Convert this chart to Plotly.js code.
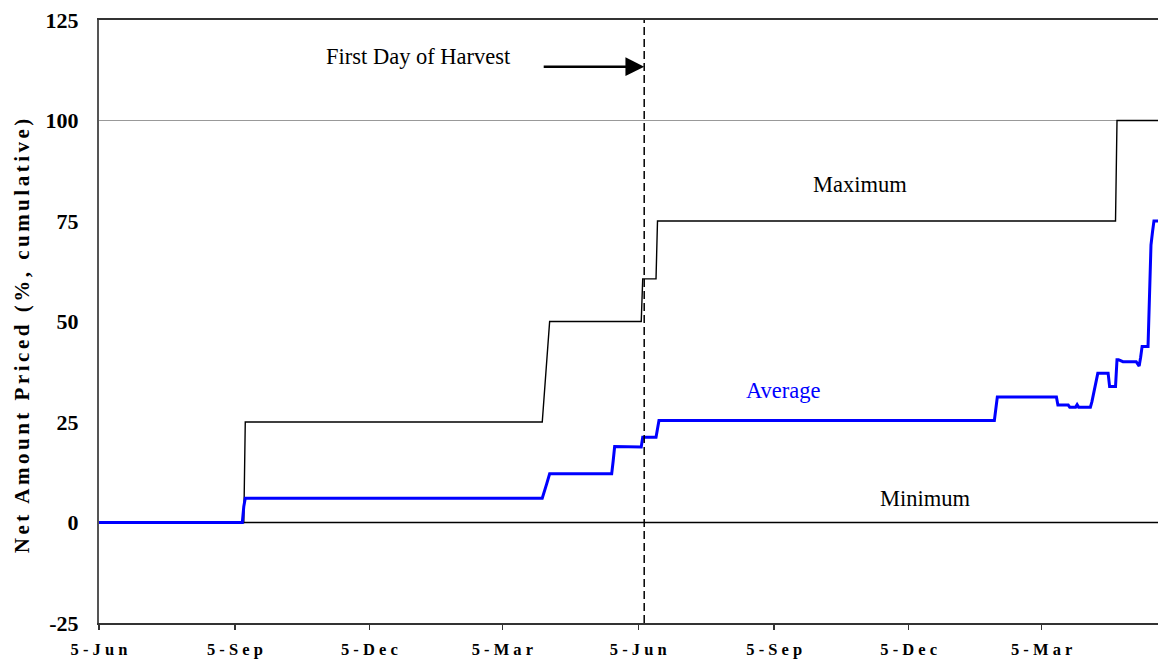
<!DOCTYPE html>
<html>
<head>
<meta charset="utf-8">
<script src="https://cdn.plot.ly/plotly-3.0.1.min.js"></script>
<style>
  html, body { margin: 0; padding: 0; background: #fff; }
  #chart { width: 1158px; height: 660px; }
  .annotation[data-index="5"] text { letter-spacing: 3.5px; }
</style>
</head>
<body>
<div id="chart"></div>
<script>
// ---- Data ----
const maxDates = ["2001-06-05","2001-09-11","2001-09-12","2002-04-01","2002-04-06","2002-06-07","2002-06-08","2002-06-17","2002-06-18","2003-04-24","2003-04-25","2003-05-22 18:00"];
const maxValues = [0,0,25,25,50,50,60.6,60.6,75,75,100,100];

const minDates = ["2001-06-05","2003-05-22 18:00"];
const minValues = [0,0];

const avgDates = ["2001-06-05","2001-09-10","2001-09-11","2001-09-12","2002-04-01","2002-04-03","2002-04-04","2002-04-06",
  "2002-05-18","2002-05-19","2002-05-20","2002-06-07","2002-06-08","2002-06-17","2002-06-18","2002-06-19",
  "2003-02-01","2003-02-02","2003-02-03","2003-03-15","2003-03-16","2003-03-23","2003-03-24","2003-03-28","2003-03-29","2003-03-30",
  "2003-04-07","2003-04-08","2003-04-09","2003-04-10","2003-04-11","2003-04-12","2003-04-19","2003-04-20","2003-04-24","2003-04-25",
  "2003-04-26","2003-04-29","2003-05-08","2003-05-10","2003-05-11","2003-05-12","2003-05-16","2003-05-17","2003-05-18","2003-05-19",
  "2003-05-20","2003-05-22 18:00"];
const avgValues = [0,0,4.0,6.05,6.05,8.8,9.6,12.1,
  12.1,15.3,18.9,18.8,21.2,21.2,23.7,25.4,
  25.4,28.7,31.2,31.2,29.2,29.2,28.7,28.7,29.3,28.7,
  28.7,30.0,31.6,33.7,35.3,37.1,37.1,33.8,33.8,40.5,
  40.5,40.0,40.0,38.9,41.1,43.8,43.8,60.2,69.0,72.2,
  75.0,75.0];

const harvestDate = "2002-06-09";
const xTickVals = ["2001-06-05","2001-09-05","2001-12-05","2002-03-05","2002-06-05","2002-09-05","2002-12-05","2003-03-05"];
const xTickText = ["5 - J u n","5 - S e p","5 - D e c","5 - M a r","5 - J u n","5 - S e p","5 - D e c","5 - M a r"];
const yTickVals = [-25,0,25,50,75,100,125];
const yTickText = ["-25","0","25","50","75","100","125"];
const xRange = ["2001-06-05","2003-05-22 18:00"];
const yTitle = "Net Amount Priced (%, cumulative)";

const serif = "Times New Roman, Liberation Serif, serif";

const traces = [
  {x: minDates, y: minValues, type: "scatter", mode: "lines", name: "Minimum",
   line: {color: "#000000", width: 1.6}, hoverinfo: "skip"},
  {x: maxDates, y: maxValues, type: "scatter", mode: "lines", name: "Maximum",
   line: {color: "#000000", width: 1.4}, hoverinfo: "skip"},
  {x: avgDates, y: avgValues, type: "scatter", mode: "lines", name: "Average",
   line: {color: "#0000FF", width: 3}, hoverinfo: "skip"}
];

const layout = {
  width: 1158, height: 660,
  margin: {l: 99, r: 0, t: 20, b: 37},
  paper_bgcolor: "#ffffff", plot_bgcolor: "#ffffff",
  showlegend: false,
  xaxis: {
    type: "date", range: xRange,
    tickmode: "array", tickvals: xTickVals, ticktext: xTickText,
    ticks: "outside", ticklen: 5, tickwidth: 1.5, tickcolor: "#333",
    ticklabelstandoff: 5,
    showgrid: false, zeroline: false,
    showline: true, linecolor: "#333", linewidth: 2, mirror: true,
    tickfont: {family: serif, size: 16.5, color: "#000", weight: "bold"}
  },
  yaxis: {
    range: [-25, 125],
    tickmode: "array", tickvals: yTickVals, ticktext: yTickText,
    ticks: "", ticklabelstandoff: 14,
    showgrid: false, zeroline: false,
    showline: true, linecolor: "#555", linewidth: 2,
    tickfont: {family: serif, size: 22, color: "#000", weight: "bold"}
  },
  shapes: [
    {type: "line", xref: "paper", yref: "y", x0: 0, x1: 1, y0: 100, y1: 100,
     line: {color: "#999", width: 1.2}, layer: "below"},
    {type: "line", xref: "x", yref: "paper", x0: harvestDate, x1: harvestDate, y0: 0, y1: 1,
     line: {color: "#000", width: 1.5, dash: "8px,4px"}}
  ],
  annotations: [
    {xref: "paper", yref: "y", x: 0.3017, y: 115.9, xanchor: "center", yanchor: "middle",
     text: "First Day of Harvest", showarrow: false,
     font: {family: serif, size: 22.5, color: "#000"}},
    {xref: "x", yref: "y", x: harvestDate, y: 113.4, text: "", showarrow: true,
     axref: "pixel", ayref: "pixel", ax: -102, ay: 0,
     arrowhead: 2, arrowsize: 1.5, arrowwidth: 2.5, arrowcolor: "#000", standoff: 0},
    {xref: "paper", yref: "y", x: 0.7186, y: 84.1, xanchor: "center", yanchor: "middle",
     text: "Maximum", showarrow: false,
     font: {family: serif, size: 22.5, color: "#000"}},
    {xref: "paper", yref: "y", x: 0.6459, y: 32.8, xanchor: "center", yanchor: "middle",
     text: "Average", showarrow: false,
     font: {family: serif, size: 22.5, color: "#0000FF"}},
    {xref: "paper", yref: "y", x: 0.7800, y: 6.0, xanchor: "center", yanchor: "middle",
     text: "Minimum", showarrow: false,
     font: {family: serif, size: 22.5, color: "#000"}},
    {xref: "paper", yref: "paper", x: 0, y: 0.5, xanchor: "center", yanchor: "middle",
     xshift: -78, yshift: -13, textangle: -90,
     text: yTitle, showarrow: false,
     font: {family: serif, size: 21, color: "#000", weight: "bold"}}
  ]
};

Plotly.newPlot("chart", traces, layout, {displayModeBar: false, staticPlot: true});
</script>
</body>
</html>
